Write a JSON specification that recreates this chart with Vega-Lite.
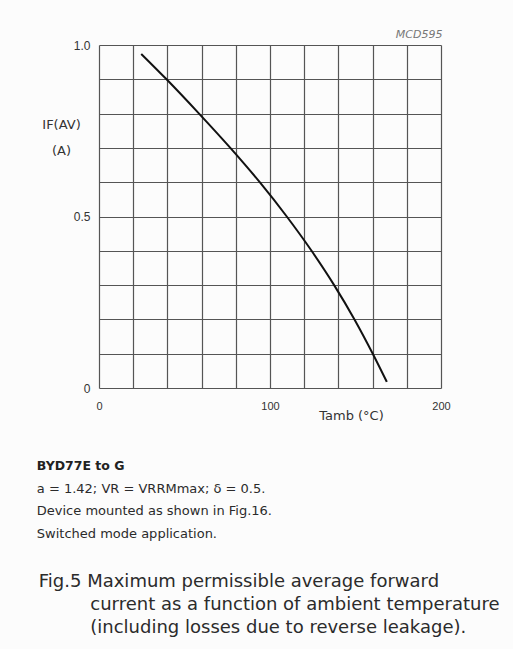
{
  "$schema": "https://vega.github.io/schema/vega-lite/v6.json",
  "background": "#fcfcfc",
  "padding": {"left": 36, "top": 28, "right": 30, "bottom": 12},
  "config": {
    "font": "Liberation Sans",
    "view": {"stroke": null},
    "axis": {"labelFont": "Liberation Sans", "titleFont": "DejaVu Sans", "labelColor": "#333", "titleColor": "#333", "titleFontWeight": "normal"}
  },
  "title": {
    "text": ["Fig.5 Maximum permissible average forward", "\u200b\u00a0\u00a0\u00a0\u00a0\u00a0\u00a0\u00a0\u00a0\u00a0current as a function of ambient temperature", "\u200b\u00a0\u00a0\u00a0\u00a0\u00a0\u00a0\u00a0\u00a0\u00a0(including losses due to reverse leakage)."],
    "orient": "bottom",
    "anchor": "start",
    "font": "DejaVu Sans",
    "fontSize": 18,
    "fontWeight": "normal",
    "lineHeight": 23,
    "color": "#2b2b2b",
    "baseline": "top",
    "offset": 32,
    "dx": 2
  },
  "vconcat": [
    {
      "width": 342,
      "height": 343,
      "title": {
        "text": "BYD77E to G",
        "subtitle": ["a = 1.42; VR = VRRMmax; \u03b4 = 0.5.", "Device mounted as shown in Fig.16.", "Switched mode application."],
        "orient": "bottom",
        "anchor": "start",
        "font": "DejaVu Sans",
        "fontSize": 12.5,
        "fontWeight": "bold",
        "color": "#222",
        "subtitleFont": "DejaVu Sans",
        "subtitleFontSize": 13,
        "subtitleColor": "#2b2b2b",
        "subtitleLineHeight": 22.5,
        "subtitlePadding": 10,
        "baseline": "top",
        "offset": 38,
        "dx": -5
      },
      "data": {
        "values": [
          {"T": 24.7, "I": 0.974},
          {"T": 39.5, "I": 0.9},
          {"T": 58.5, "I": 0.8},
          {"T": 76.8, "I": 0.7},
          {"T": 94.0, "I": 0.6},
          {"T": 109.8, "I": 0.5},
          {"T": 124.3, "I": 0.4},
          {"T": 137.5, "I": 0.3},
          {"T": 149.4, "I": 0.2},
          {"T": 160.1, "I": 0.1},
          {"T": 168.3, "I": 0.018}
        ]
      },
      "resolve": {"axis": {"x": "independent"}},
      "layer": [
        {
          "mark": {"type": "line", "color": "#111", "strokeWidth": 2, "interpolate": "monotone"},
          "encoding": {
            "x": {
              "field": "T", "type": "quantitative",
              "scale": {"domain": [0, 200], "nice": false},
              "axis": {
                "orient": "bottom",
                "values": [0, 20, 40, 60, 80, 100, 120, 140, 160, 180, 200],
                "labelExpr": "datum.value % 100 == 0 ? datum.label : ''",
                "labelFontSize": 11,
                "labelPadding": 12,
                "labelFlush": false,
                "labelOverlap": false,
                "ticks": false,
                "tickSize": 0,
                "domain": false,
                "grid": true,
                "gridColor": "#555",
                "gridWidth": 1.2,
                "gridOpacity": 1,
                "title": "Tamb (\u00b0C)",
                "titleFontSize": 13,
                "titleX": 252,
                "titleY": 21,
                "titleAlign": "center",
                "titleBaseline": "top"
              }
            },
            "y": {
              "field": "I", "type": "quantitative",
              "scale": {"domain": [0, 1], "nice": false},
              "axis": {
                "values": [0, 0.1, 0.2, 0.3, 0.4, 0.5, 0.6, 0.7, 0.8, 0.9, 1],
                "labelExpr": "datum.value == 0 ? '0' : datum.value == 0.5 ? '0.5' : datum.value == 1 ? '1.0' : ''",
                "labelFontSize": 12,
                "labelPadding": 9,
                "labelFlush": false,
                "labelOverlap": false,
                "ticks": false,
                "tickSize": 0,
                "domain": false,
                "grid": true,
                "gridColor": "#555",
                "gridWidth": 1.2,
                "gridOpacity": 1,
                "title": ["IF(AV)", "(A)"],
                "titleFontSize": 13,
                "titleAngle": 0,
                "titleX": -38,
                "titleY": 73,
                "titleAlign": "center",
                "titleBaseline": "top",
                "titleLineHeight": 26
              }
            }
          }
        },
        {
          "mark": {"type": "line", "opacity": 0},
          "encoding": {
            "x": {
              "field": "T", "type": "quantitative",
              "axis": {
                "orient": "top",
                "labels": false,
                "ticks": false,
                "domain": false,
                "grid": false,
                "title": "MCD595",
                "titleFontSize": 11,
                "titleFontStyle": "italic",
                "titleColor": "#777",
                "titleX": 343,
                "titleY": -11,
                "titleAlign": "right",
                "titleBaseline": "middle"
              }
            }
          }
        }
      ]
    }
  ]
}
